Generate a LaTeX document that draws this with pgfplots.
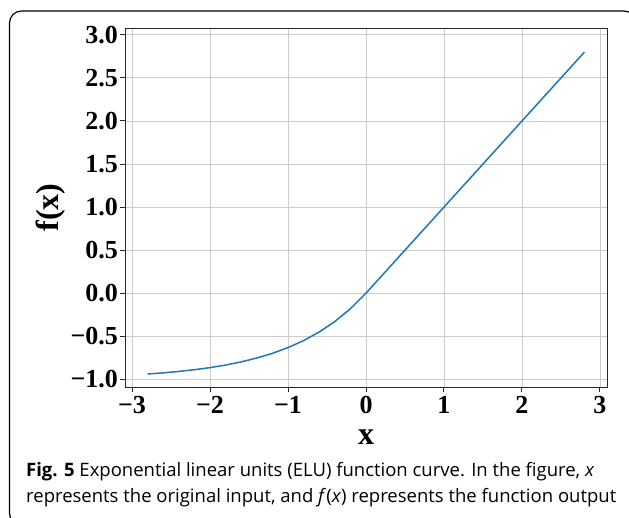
\documentclass[border=0pt]{standalone}
\usepackage{pgfplots}
\pgfplotsset{compat=1.18}
\usepackage{fontspec}
\setmainfont{Liberation Serif}
\newfontfamily\capfont{Open Sans}
\definecolor{mplblue}{HTML}{1F77B4}
\definecolor{gridgray}{HTML}{CCCCCC}

\begin{document}
\begin{tikzpicture}
\useasboundingbox (0,0) rectangle (629pt,-517pt);
% outer frame (right and bottom edges fall outside the page)
\draw[line width=1.2pt, rounded corners=12pt] (9.5pt,-11pt) rectangle (636pt,-525pt);
\begin{axis}[
    at={(125pt,-387pt)}, anchor=south west,
    scale only axis,
    width=482pt, height=359pt,
    xmin=-3.09, xmax=3.09,
    ymin=-1.09, ymax=3.08,
    xtick={-3,-2,-1,0,1,2,3},
    xticklabels={−3,−2,−1,0,1,2,3},
    ytick={-1,-0.5,0,0.5,1,1.5,2,2.5,3},
    yticklabels={−1.0,−0.5,0.0,0.5,1.0,1.5,2.0,2.5,3.0},
    grid=major,
    major grid style={gridgray, line width=0.9pt},
    axis line style={black!85, line width=1pt},
    tick style={black!85, line width=1pt},
    tick align=outside,
    major tick length=4.5pt,
    tick pos=left,
    tick label style={font=\fontsize{26}{28}\selectfont\bfseries},
    yticklabel style={xshift=1pt},
    xticklabel style={yshift=-1pt},
    xlabel={\textbf{x}},
    ylabel={\textbf{f(x)}},
    label style={font=\fontsize{32}{34}\selectfont\bfseries},
    xlabel style={at={(axis description cs:0.5,0)}, anchor=center, yshift=-50pt},
    ylabel style={at={(axis description cs:-0.155,0.5)}, anchor=center},
]
\addplot[mplblue, line width=1.5pt] coordinates {
    (-2.8,-0.939) (-2.6,-0.926) (-2.4,-0.909) (-2.2,-0.889) (-2.0,-0.865)
    (-1.8,-0.835) (-1.6,-0.798) (-1.4,-0.753) (-1.2,-0.699) (-1.0,-0.632)
    (-0.8,-0.551) (-0.6,-0.451) (-0.4,-0.330) (-0.2,-0.181) (0,0)
    (2.8,2.8)
};
\end{axis}
\node[anchor=base west, inner sep=0pt, font=\capfont\fontsize{18.5}{22}\selectfont] at (26pt,-476pt)
    {\textbf{Fig. 5} Exponential linear units (ELU) function curve. In the figure, \textit{x}};
\node[anchor=base west, inner sep=0pt, font=\capfont\fontsize{18.5}{22}\selectfont] at (26pt,-502pt)
    {represents the original input, and \textit{f}(\textit{x}) represents the function output};
\end{tikzpicture}
\end{document}
